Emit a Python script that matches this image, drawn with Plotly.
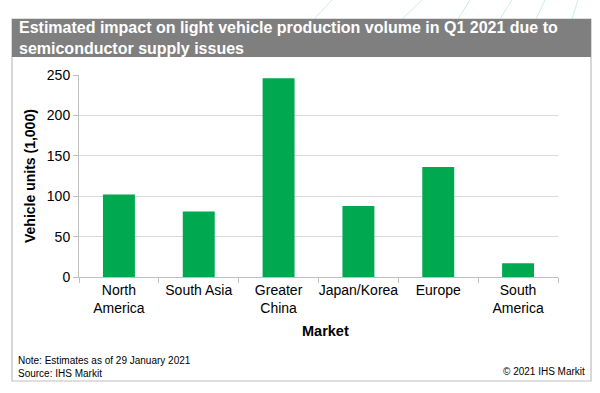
import plotly.graph_objects as go

markets = ["North<br>America", "South Asia", "Greater<br>China", "Japan/Korea", "Europe", "South<br>America"]
impact = [102, 81, 246, 88, 136, 17]
y_ticks = [0, 50, 100, 150, 200, 250]

W, H = 600, 393
def px(x): return x / W
def py(y): return 1 - y / H

fig = go.Figure(go.Bar(x=markets, y=impact, marker=dict(color="#00a84f", line=dict(width=0)),
                       width=0.4))

FONT = "Liberation Sans, Arial, sans-serif"
shapes = []
# decorative faint lines at top
for x0, x1 in [(332, 314), (422, 402), (470, 458), (512, 500), (545, 536), (578, 572)]:
    shapes.append(dict(type="line", xref="paper", yref="paper", x0=px(x0), x1=px(x1), y0=py(0), y1=py(19),
                       line=dict(color="#c9ecec", width=1), layer="below"))
# frame
shapes.append(dict(type="rect", xref="paper", yref="paper", x0=px(12), x1=px(591), y0=py(381), y1=py(19),
                   line=dict(color="#bfbfbf", width=1.2), fillcolor="white", layer="below"))
# title band
shapes.append(dict(type="rect", xref="paper", yref="paper", x0=px(12), x1=px(591), y0=py(57), y1=py(19),
                   line=dict(width=0), fillcolor="#7f7f7f", layer="below"))

annotations = [
    dict(text="<b>Estimated impact on light vehicle production volume in Q1 2021 due to<br>semiconductor supply issues</b>",
         xref="paper", yref="paper", x=px(17), y=py(38), xanchor="left", yanchor="middle", align="left",
         showarrow=False, font=dict(family=FONT, size=16, color="white")),
    dict(text="Note: Estimates as of 29 January 2021<br>Source: IHS Markit", xref="paper", yref="paper",
         x=px(16), y=py(367), xanchor="left", yanchor="middle", align="left", showarrow=False,
         font=dict(family=FONT, size=10, color="#000000")),
    dict(text="© 2021 IHS Markit", xref="paper", yref="paper", x=px(587), y=py(371), xanchor="right",
         yanchor="middle", showarrow=False, font=dict(family=FONT, size=10, color="#000000")),
    dict(text="<b>Vehicle units (1,000)</b>", xref="paper", yref="paper", x=px(30), y=py(176), textangle=-90,
         xanchor="center", yanchor="middle", showarrow=False, font=dict(family=FONT, size=14, color="#000000")),
    dict(text="<b>Market</b>", xref="paper", yref="paper", x=px(325), y=py(331), xanchor="center",
         yanchor="middle", showarrow=False, font=dict(family=FONT, size=14.5, color="#000000")),
]

fig.update_layout(
    width=W, height=H, margin=dict(l=0, r=0, t=0, b=0),
    paper_bgcolor="white", plot_bgcolor="rgba(0,0,0,0)",
    shapes=shapes, annotations=annotations, showlegend=False,
    font=dict(family=FONT, size=14, color="#000000"),
    xaxis=dict(domain=[px(79), px(558)], type="category", tickson="boundaries", ticks="outside", ticklen=5,
               tickangle=0, tickcolor="#bfbfbf", showline=True, linecolor="#bfbfbf", linewidth=1, showgrid=False,
               tickfont=dict(family=FONT, size=14, color="#000000"), automargin=False),
    yaxis=dict(domain=[py(277), py(75)], range=[0, 250], tickvals=y_ticks, ticks="outside", ticklen=5,
               tickcolor="#bfbfbf", showline=True, linecolor="#bfbfbf", linewidth=1, showgrid=True,
               gridcolor="#d9d9d9", gridwidth=1, zeroline=False,
               tickfont=dict(family=FONT, size=14, color="#000000"), automargin=False),
)

fig.write_html("out.html", config={"displayModeBar": False},
               post_script="document.body.style.margin='0';")
